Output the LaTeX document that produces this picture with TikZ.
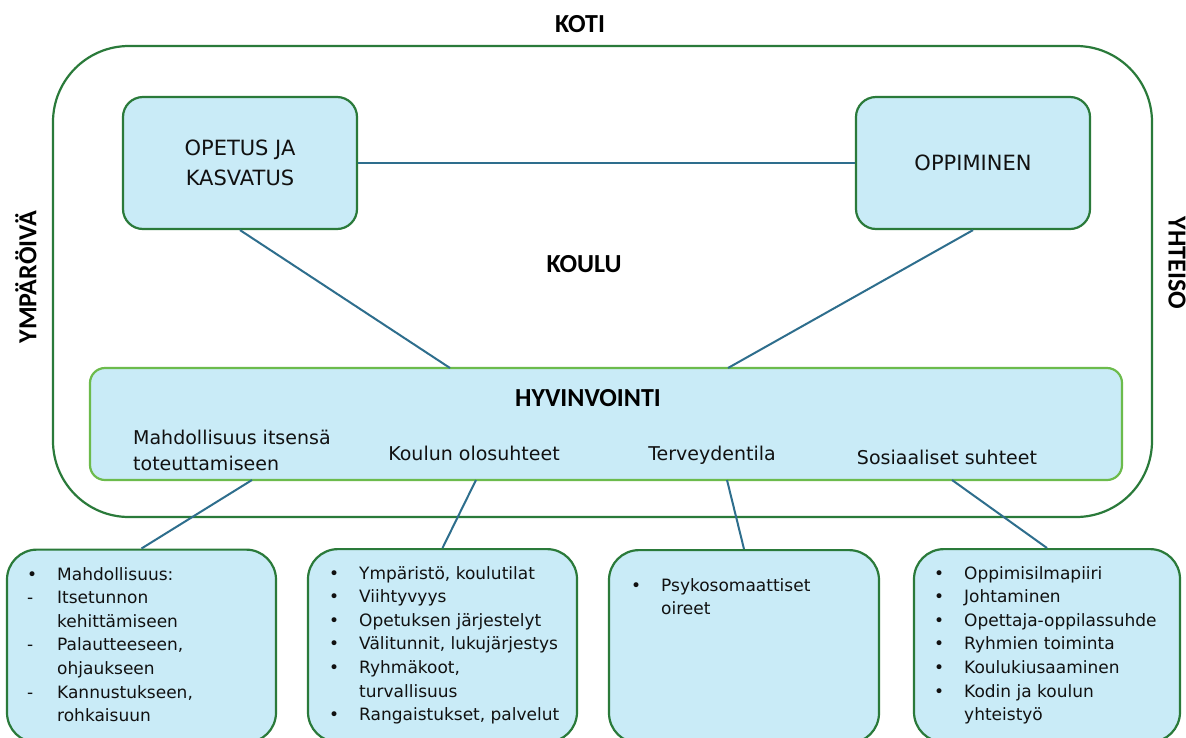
\documentclass[tikz,border=0pt]{standalone}
\usepackage{fontspec}
\setmainfont{DejaVu Sans}
\newfontfamily\headfont{Carlito}
\usetikzlibrary{calc}
\definecolor{boxfill}{HTML}{C9EBF7}
\definecolor{dgreen}{HTML}{2A7A3A}
\definecolor{lgreen}{HTML}{6CBB4C}
\definecolor{connc}{HTML}{2E6E8D}
\definecolor{txt}{HTML}{111111}
\newcommand\bitem{\makebox[30pt][l]{•}}
\newcommand\ditem{\makebox[30pt][l]{-}}
\newcommand\contl{\hspace*{30pt}}
\begin{document}
\begin{tikzpicture}[x=1pt,y=-1pt,
  frame/.style={draw=dgreen,line width=2.2pt,rounded corners=76pt,inner sep=0pt},
  topbox/.style={draw=dgreen,fill=boxfill,line width=2.2pt,rounded corners=20pt,minimum width=234pt,minimum height=132pt,inner sep=0pt,align=center,text=txt,font=\fontsize{21}{30}\selectfont},
  band/.style={draw=lgreen,fill=boxfill,line width=2.2pt,rounded corners=15pt,minimum width=1032pt,minimum height=112pt,inner sep=0pt},
  botbox/.style={draw=dgreen,fill=boxfill,line width=2.2pt,rounded corners=30pt,minimum height=193pt,inner sep=0pt},
  head/.style={font=\headfont\bfseries\fontsize{26}{30}\selectfont,text=black,inner sep=0pt},
  sublbl/.style={font=\fontsize{19}{26}\selectfont,text=txt,inner sep=0pt},
  listtxt/.style={font=\fontsize{17}{23.6}\selectfont,text=txt,inner sep=0pt,anchor=base west},
  conn/.style={draw=connc,line width=2pt}]
\useasboundingbox (0,0) rectangle (1186,737);
\fill[white] (0,0) rectangle (1186,737);
% outer frame
\node[frame,minimum width=1099pt,minimum height=471pt] (frame) at (602.5,281.5) {};
% headings
\node[head] (koti) at (580,24) {KOTI};
\node[head] (koulu) at (584,264) {KOULU};
\node[head,rotate=90] (ymp) at (26,277) {YMPÄRÖIVÄ};
\node[head,rotate=-90] (yht) at (1177,263) {YHTEISO};
% top boxes
\node[topbox] (opetus) at (240,163) {OPETUS JA\\KASVATUS};
\node[topbox] (oppi) at (973,163) {OPPIMINEN};
% band
\node[band] (hyv) at (606,424) {};
\node[head] (hyvt) at (588,398) {HYVINVOINTI};
\node[sublbl,anchor=west,align=left] (s1) at (133,450) {Mahdollisuus itsensä\\toteuttamiseen};
\node[sublbl] (s2) at (474,453) {Koulun olosuhteet};
\node[sublbl] (s3) at (712,455) {Terveydentila};
\node[sublbl] (s4) at (947,457) {Sosiaaliset suhteet};
% attach points on band
\coordinate (ht1) at (450,368);
\coordinate (ht2) at (728,368);
\coordinate (hb1) at (252,480);
\coordinate (hb2) at (476,480);
\coordinate (hb3) at (727,480);
\coordinate (hb4) at (952,480);
% bottom boxes
\node[botbox,minimum width=269pt,anchor=north] (b1) at (141.5,548.5) {};
\node[botbox,minimum width=269pt,anchor=north] (b2) at (442.5,548) {};
\node[botbox,minimum width=270pt,anchor=north] (b3) at (744,549) {};
\node[botbox,minimum width=266pt,anchor=north] (b4) at (1047,548) {};
% connectors
\draw[conn] (opetus.east) -- (oppi.west);
\draw[conn] (opetus.south) -- (ht1);
\draw[conn] (oppi.south) -- (ht2);
\draw[conn] (hb1) -- (b1.north);
\draw[conn] (hb2) -- (b2.north);
\draw[conn] (hb3) -- (b3.north);
\draw[conn] (hb4) -- (b4.north);
% list texts
\node[listtxt] (l1) at (27,580) {\begin{minipage}[t]{245pt}\fontsize{17}{23.6}\selectfont
\bitem Mahdollisuus:\\
\ditem Itsetunnon\\
\contl kehittämiseen\\
\ditem Palautteeseen,\\
\contl ohjaukseen\\
\ditem Kannustukseen,\\
\contl rohkaisuun\end{minipage}};
\node[listtxt] (l2) at (329,579) {\begin{minipage}[t]{245pt}\fontsize{17}{23.6}\selectfont
\bitem Ympäristö, koulutilat\\
\bitem Viihtyvyys\\
\bitem Opetuksen järjestelyt\\
\bitem Välitunnit, lukujärjestys\\
\bitem Ryhmäkoot,\\
\contl turvallisuus\\
\bitem Rangaistukset, palvelut\end{minipage}};
\node[listtxt] (l3) at (631,591) {\begin{minipage}[t]{245pt}\fontsize{17}{23.6}\selectfont
\bitem Psykosomaattiset\\
\contl oireet\end{minipage}};
\node[listtxt] (l4) at (934,579) {\begin{minipage}[t]{245pt}\fontsize{17}{23.6}\selectfont
\bitem Oppimisilmapiiri\\
\bitem Johtaminen\\
\bitem Opettaja-oppilassuhde\\
\bitem Ryhmien toiminta\\
\bitem Koulukiusaaminen\\
\bitem Kodin ja koulun\\
\contl yhteistyö\end{minipage}};
\end{tikzpicture}
\end{document}
